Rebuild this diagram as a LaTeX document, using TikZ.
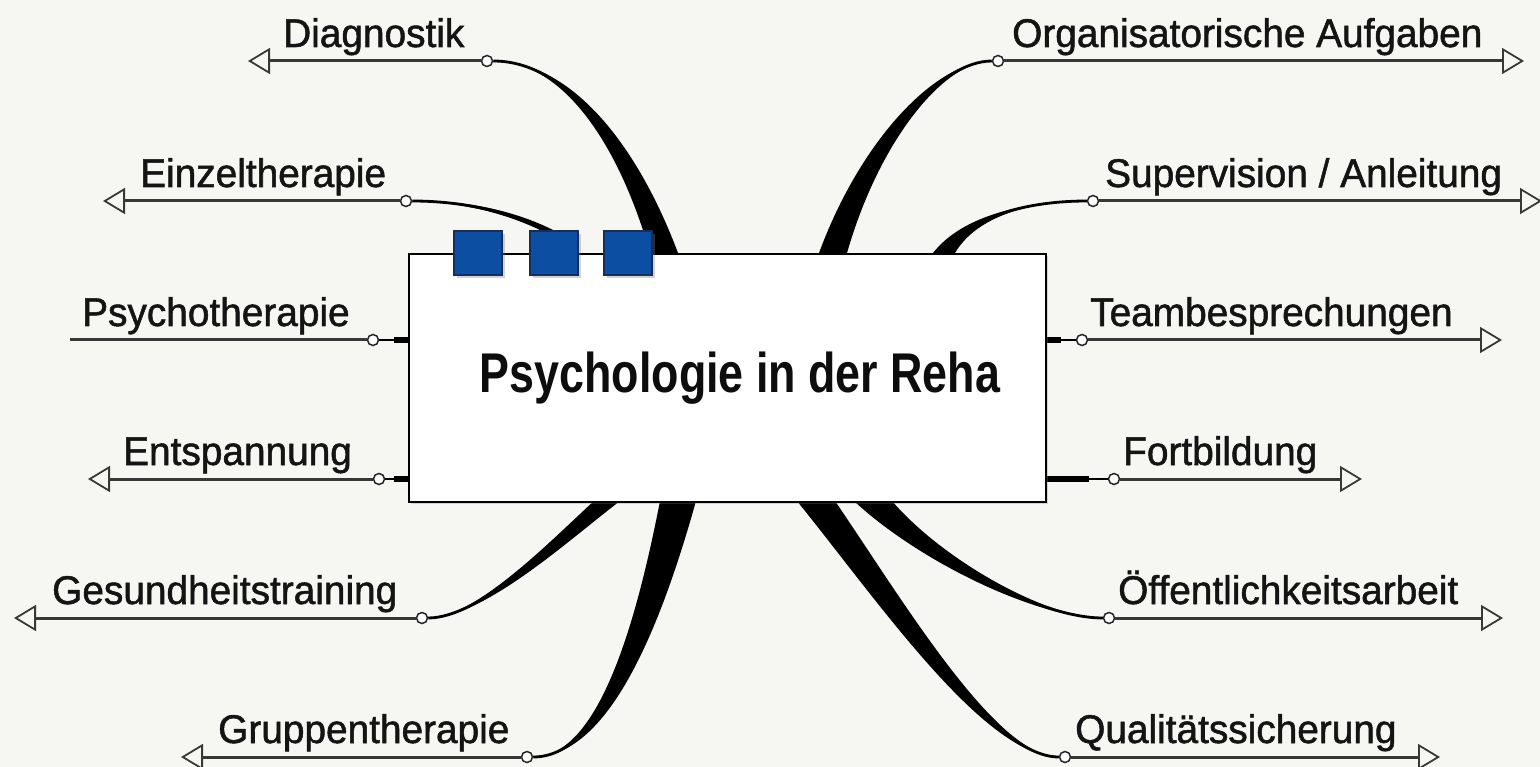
\documentclass[tikz,border=0pt]{standalone}
\usepackage{fontspec}
\setmainfont{Liberation Sans}
\newfontfamily\lblfont{Liberation Sans}[FakeStretch=0.97,FakeBold=1.3]
\newfontfamily\ttlfont{Liberation Sans}[FakeStretch=0.8]
\usetikzlibrary{arrows.meta,calc,shadows}
\definecolor{bgc}{RGB}{246,246,243}
\definecolor{sqblue}{RGB}{12,78,162}
\definecolor{sqedge}{RGB}{25,45,90}
% tapered branch: start, control 1, control 2, end, half-width offset vector
\newcommand\branch[5]{%
  \fill[black] (#1) .. controls ($(#2)-0.3*(#5)$) and ($(#3)-0.67*(#5)$) .. ($(#4)-(#5)$)
     -- ($(#4)+(#5)$) .. controls ($(#3)+0.67*(#5)$) and ($(#2)+0.3*(#5)$) .. (#1) -- cycle;
  \draw[line width=2.8pt] (#1) .. controls (#2) and (#3) .. (#4);
}
\begin{document}
\begin{tikzpicture}[x=1pt,y=-1pt,
  lbl/.style={font=\lblfont\fontsize{40}{48}\selectfont, anchor=base west, inner sep=0pt, text=black!92},
  dot/.style={circle, draw=black!85, fill=white, line width=1.5pt, inner sep=0pt, minimum size=11pt},
  hline/.style={line width=3pt, draw=black!78},
  >={Triangle[open,length=22pt,width=26pt,line width=1.8pt]},
  sq/.style={draw=sqedge, fill=sqblue, line width=1.5pt, minimum width=48pt, minimum height=44pt, inner sep=0pt,
             drop shadow={shadow xshift=3pt, shadow yshift=-3pt, opacity=0.35}},
  bigbox/.style={draw=black, fill=white, line width=2pt, minimum width=637pt, minimum height=248pt, inner sep=0pt,
             anchor=north west, drop shadow={shadow xshift=2pt, shadow yshift=-2pt, opacity=0.3}},
]
\useasboundingbox (0,0) rectangle (1540,767);
\fill[bgc] (0,0) rectangle (1540,767);

% connection dots
\node[dot] (dg) at (487,61) {};
\node[dot] (ez) at (406,201) {};
\node[dot] (ps) at (373,340) {};
\node[dot] (en) at (379,479) {};
\node[dot] (ge) at (422,618) {};
\node[dot] (gr) at (527,757) {};
\node[dot] (or) at (998,61) {};
\node[dot] (su) at (1093,201) {};
\node[dot] (te) at (1082,340) {};
\node[dot] (fo) at (1114,479) {};
\node[dot] (oe) at (1109,618) {};
\node[dot] (qu) at (1065,757) {};

% free line ends
\coordinate (dgT) at (248,61);
\coordinate (ezT) at (103,201);
\coordinate (psT) at (70,340);
\coordinate (enT) at (88,479);
\coordinate (geT) at (14,618);
\coordinate (grT) at (181,757);
\coordinate (orT) at (1524,61);
\coordinate (suT) at (1542,201);
\coordinate (teT) at (1502,340);
\coordinate (foT) at (1362,479);
\coordinate (oeT) at (1503,618);
\coordinate (quT) at (1440,757);

% attachment points on the central box
\coordinate (dgE) at (664,253);
\coordinate (ezE) at (558,236);
\coordinate (psE) at (408,340);
\coordinate (enE) at (408,479);
\coordinate (geE) at (607,501);
\coordinate (grE) at (678,501);
\coordinate (orE) at (833,253);
\coordinate (suE) at (944,253);
\coordinate (teE) at (1045,340);
\coordinate (foE) at (1045,479);
\coordinate (oeE) at (873,501);
\coordinate (quE) at (816,501);

% horizontal lines with open arrow tips
\draw[hline,->] (dg) -- (dgT);
\draw[hline,->] (ez) -- (ezT);
\draw[hline] (ps) -- (psT);
\draw[hline,->] (en) -- (enT);
\draw[hline,->] (ge) -- (geT);
\draw[hline,->] (gr) -- (grT);
\draw[hline,->] (or) -- (orT);
\draw[hline,->] (su) -- (suT);
\draw[hline,->] (te) -- (teT);
\draw[hline,->] (fo) -- (foT);
\draw[hline,->] (oe) -- (oeT);
\draw[hline,->] (qu) -- (quT);

% tapered branches
\branch{dg.east}{570,61}{630,150}{dgE}{14,0}
\branch{ez.east}{470,201}{520,215}{ezE}{1,4}
\branch{ge.east}{480,618}{560,540}{geE}{13,0}
\branch{gr.east}{600,757}{645,640}{grE}{18,0}
\branch{or.west}{940,61}{870,140}{orE}{14,0}
\branch{su.west}{1030,201}{970,215}{suE}{11,0}
\branch{oe.west}{1040,618}{930,560}{oeE}{19,0}
\branch{qu.west}{990,757}{890,600}{quE}{19,0}

% short stubs
\draw[line width=2.8pt] (ps) -- (psE);
\draw[line width=5.5pt] ($(psE)+(-14,0)$) -- (psE);
\draw[line width=2.8pt] (en) -- (enE);
\draw[line width=5.5pt] ($(enE)+(-14,0)$) -- (enE);
\draw[line width=2.8pt] (te) -- (teE);
\draw[line width=5.5pt] (teE) -- ($(teE)+(16,0)$);
\draw[line width=2.8pt] (fo) -- (foE);
\draw[line width=5.5pt] (foE) -- ($(foE)+(44,0)$);

% central box
\node[bigbox] (box) at (408,253) {};
\node[sq] (s1) at (478,253) {};
\node[sq] (s2) at (554,253) {};
\node[sq] (s3) at (628,253) {};
\node[font=\ttlfont\bfseries\fontsize{56}{64}\selectfont, anchor=base, inner sep=0pt, text=black!95] (title) at (740,392) {Psychologie in der Reha};

% labels
\node[lbl] (dgL) at (283,47) {Diagnostik};
\node[lbl] (ezL) at (140,187) {Einzeltherapie};
\node[lbl] (psL) at (82,326) {Psychotherapie};
\node[lbl] (enL) at (123,465) {Entspannung};
\node[lbl] (geL) at (52,604) {Gesundheitstraining};
\node[lbl] (grL) at (218,743) {Gruppentherapie};
\node[lbl] (orL) at (1012,47) {Organisatorische Aufgaben};
\node[lbl] (suL) at (1105,187) {Supervision / Anleitung};
\node[lbl] (teL) at (1090,326) {Teambesprechungen};
\node[lbl] (foL) at (1123,465) {Fortbildung};
\node[lbl] (oeL) at (1118,604) {Öffentlichkeitsarbeit};
\node[lbl] (quL) at (1075,743) {Qualitätssicherung};
\end{tikzpicture}
\end{document}
